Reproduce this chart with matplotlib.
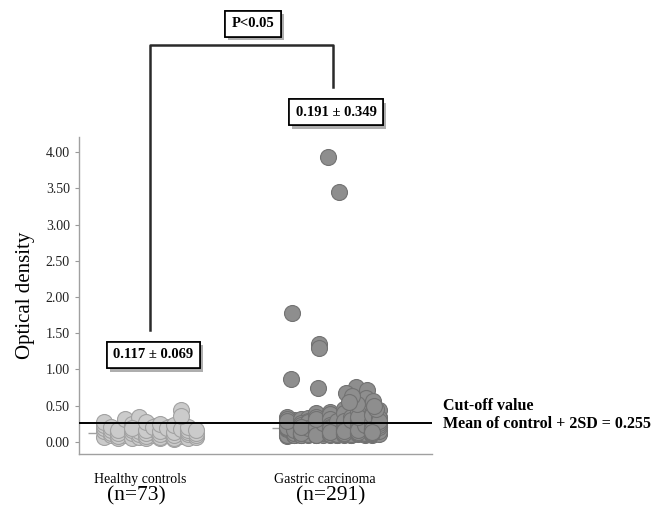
import numpy as np
import matplotlib
matplotlib.use("Agg")
import matplotlib.pyplot as plt
import matplotlib.patheffects as pe

plt.rcParams["font.family"] = ["Liberation Serif", "DejaVu Serif"]

# Optical density per subject, grouped in plotting columns (0 = leftmost)
healthy_cols = [
    [0.07, 0.11, 0.15, 0.09, 0.19, 0.13, 0.24, 0.17, 0.28, 0.21],
    [0.06, 0.10, 0.14, 0.18, 0.08, 0.22, 0.12, 0.26, 0.16, 0.31],
    [0.05, 0.09, 0.13, 0.07, 0.17, 0.11, 0.21, 0.15, 0.25, 0.34, 0.19],
    [0.06, 0.10, 0.08, 0.14, 0.12, 0.18, 0.16, 0.22, 0.27, 0.20],
    [0.05, 0.09, 0.07, 0.13, 0.11, 0.17, 0.15, 0.21, 0.25, 0.19],
    [0.04, 0.08, 0.06, 0.12, 0.10, 0.16, 0.14, 0.20, 0.24, 0.18],
    [0.05, 0.08, 0.11, 0.07, 0.14, 0.10, 0.17, 0.13, 0.20, 0.16],
]
healthy_high = [0.44, 0.36]
healthy_high_col = [5.2, 5.2]

gastric_cols = [
    [0.09, 0.12, 0.15, 0.10, 0.18, 0.21, 0.13, 0.27, 0.08, 0.16, 0.24, 0.11, 0.19,
     0.30, 0.14, 0.22, 0.10, 0.17, 0.34, 0.12, 0.25, 0.09, 0.20, 0.15, 0.28, 0.13,
     0.18, 0.11, 0.23, 0.16, 0.32, 0.10, 0.19, 0.14, 0.26, 0.12, 0.21, 0.17, 0.29],
    [0.11, 0.14, 0.09, 0.17, 0.20, 0.12, 0.25, 0.15, 0.10, 0.19, 0.28, 0.13, 0.22,
     0.16, 0.31, 0.11, 0.18, 0.24, 0.14, 0.09, 0.21, 0.33, 0.12, 0.17, 0.26, 0.15,
     0.10, 0.20, 0.13, 0.29, 0.18, 0.11, 0.23, 0.16, 0.14, 0.27, 0.12, 0.19, 0.21],
    [0.10, 0.13, 0.16, 0.19, 0.12, 0.23, 0.09, 0.27, 0.15, 0.18, 0.31, 0.11, 0.21,
     0.14, 0.36, 0.17, 0.25, 0.10, 0.20, 0.13, 0.29, 0.16, 0.40, 0.12, 0.22, 0.18,
     0.34, 0.14, 0.11, 0.24, 0.19, 0.15, 0.28, 0.13, 0.21, 0.17, 0.10, 0.26, 0.32],
    [0.12, 0.09, 0.15, 0.18, 0.22, 0.11, 0.26, 0.14, 0.30, 0.17, 0.10, 0.20, 0.35,
     0.13, 0.24, 0.16, 0.42, 0.19, 0.11, 0.28, 0.15, 0.21, 0.38, 0.12, 0.18, 0.25,
     0.14, 0.10, 0.32, 0.17, 0.23, 0.13, 0.20, 0.27, 0.16, 0.11, 0.19, 0.29, 0.14],
    [0.10, 0.14, 0.18, 0.12, 0.22, 0.16, 0.27, 0.09, 0.20, 0.31, 0.13, 0.24, 0.17,
     0.36, 0.11, 0.19, 0.28, 0.15, 0.45, 0.21, 0.12, 0.33, 0.18, 0.10, 0.25, 0.14,
     0.40, 0.16, 0.23, 0.11, 0.29, 0.19, 0.13, 0.35, 0.17, 0.26, 0.12, 0.21, 0.15, 0.30],
    [0.11, 0.15, 0.19, 0.13, 0.24, 0.17, 0.29, 0.10, 0.21, 0.34, 0.14, 0.26, 0.18,
     0.40, 0.12, 0.22, 0.31, 0.16, 0.46, 0.20, 0.13, 0.37, 0.19, 0.11, 0.27, 0.15,
     0.43, 0.17, 0.25, 0.12, 0.32, 0.21, 0.14, 0.50, 0.18, 0.28, 0.16, 0.23, 0.35],
    [0.12, 0.16, 0.10, 0.20, 0.14, 0.25, 0.18, 0.30, 0.11, 0.22, 0.15, 0.35, 0.19,
     0.13, 0.27, 0.17, 0.40, 0.21, 0.12, 0.32, 0.16, 0.24, 0.14, 0.44, 0.19, 0.11,
     0.28, 0.15, 0.37, 0.20, 0.13, 0.23, 0.17, 0.33, 0.12, 0.26, 0.18, 0.29, 0.14],
]
gastric_high = [3.93, 3.45, 1.78, 1.35, 1.30, 0.87, 0.74, 0.76, 0.72, 0.67,
                0.60, 0.53, 0.46, 0.57, 0.63, 0.50, 0.55]
gastric_high_col = [2.6, 3.4, 0.1, 2.0, 2.0, 0.0, 1.9, 4.6, 5.4, 3.9,
                    5.3, 4.7, 6.0, 5.8, 4.3, 5.9, 4.1]

healthy_mean, healthy_sd = 0.117, 0.069
gastric_mean, gastric_sd = 0.191, 0.349
cutoff = 0.255

group_names = ["Healthy controls", "Gastric carcinoma"]
group_n = [73, 291]
yticks = np.arange(0, 4.01, 0.5)

# layout
centers = [1.0, 3.6]
col_w = 0.2


def column_points(center, cols, extra, extra_col):
    xs, ys = [], []
    for i, vals in enumerate(cols):
        # stagger alternate points half a column so the stack packs like a swarm
        for j, v in enumerate(vals):
            xs.append(center + (i - 3) * col_w + (0.25 if j % 2 else -0.25) * col_w)
            ys.append(v)
    xs += [center + (c - 3) * col_w for c in extra_col]
    ys += extra
    return xs, ys


fig = plt.figure(figsize=(6.54, 5.12), dpi=100)
ax = fig.add_axes([0.1208, 0.1133, 0.5398, 0.619])
ax.set_xlim(0, 5)
ax.set_ylim(-0.166, 4.207)

hx, hy = column_points(centers[0], healthy_cols, healthy_high, healthy_high_col)
gx, gy = column_points(centers[1], gastric_cols, gastric_high, gastric_high_col)
ax.scatter(hx, hy, s=132, facecolor="#cbcbcb", edgecolor="#a2a2a2", linewidth=0.8, zorder=3)
ax.scatter(gx, gy, s=132, facecolor="#8e8e8e", edgecolor="#727272", linewidth=0.8, zorder=3)

# group means as small dashes left of each cluster
for c, m in zip(centers, [healthy_mean, gastric_mean]):
    ax.plot([c - 4 * col_w], [m], marker="_", markersize=7, color="#a0a0a0", mew=1, zorder=2)

ax.axhline(cutoff, color="black", lw=1.4, zorder=4)

ax.set_yticks(yticks)
ax.set_yticklabels([f"{v:.2f}" for v in yticks], fontsize=10, color="#222222")
ax.set_xticks([])
ax.tick_params(axis="y", length=3, color="#999999", direction="out")
for side in ["top", "right"]:
    ax.spines[side].set_visible(False)
for side in ["left", "bottom"]:
    ax.spines[side].set_color("#a0a0a0")
    ax.spines[side].set_linewidth(1.0)
ax.set_ylabel("Optical density", fontsize=15, labelpad=8)

# significance bracket
ax.plot([centers[0], centers[0], centers[1], centers[1]], [1.545, 5.48, 5.48, 4.90],
        color="#2a2a2a", lw=1.8, clip_on=False, zorder=5)


def boxed(x, y, s):
    t = ax.text(x, y, s, ha="center", va="center", fontsize=10.5, fontweight="bold",
                bbox=dict(boxstyle="square,pad=0.45", fc="white", ec="black", lw=1.2),
                clip_on=False, zorder=6)
    t.get_bbox_patch().set_path_effects(
        [pe.withSimplePatchShadow(offset=(2.5, -2.5), shadow_rgbFace="#9a9a9a", alpha=0.8),
         pe.Normal()])
    return t


boxed(2.46, 5.77, "P<0.05")
boxed(3.64, 4.55, f"{gastric_mean:.3f} \u00b1 {gastric_sd:.3f}")
boxed(1.05, 1.20, f"{healthy_mean:.3f} \u00b1 {healthy_sd:.3f}")

ax.text(5.16, 0.50, "Cut-off value", fontsize=11.5, fontweight="bold",
        ha="left", va="center", clip_on=False)
ax.text(5.16, 0.25, f"Mean of control + 2SD = {cutoff:.3f}", fontsize=11.5,
        fontweight="bold", ha="left", va="center", clip_on=False)

# group labels under the axis
for name, n, xn, xc in zip(group_names, group_n, [0.864, 3.48], [0.807, 3.57]):
    ax.text(xn, -0.524, name, fontsize=10, ha="center", va="center", clip_on=False)
    ax.text(xc, -0.745, f"(n={n})", fontsize=15.5, ha="center", va="center", clip_on=False)

fig.savefig("out.png", dpi=100)
